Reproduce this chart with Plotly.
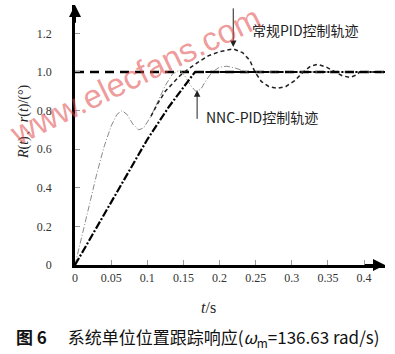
import plotly.graph_objects as go

# ---- data ----
t_ref = [0, 0.43]
y_ref = [1.0, 1.0]

t_nnc = [0, 0.02, 0.05, 0.1, 0.13, 0.166, 0.43]
y_nnc = [0, 0.13, 0.33, 0.65, 0.82, 1.0, 1.0]

t_gray = [0, 0.01, 0.02, 0.03, 0.04, 0.05, 0.058, 0.065, 0.072, 0.08, 0.088, 0.095, 0.105,
          0.115, 0.125, 0.135, 0.145, 0.152, 0.16, 0.167, 0.174, 0.182, 0.19, 0.2, 0.21,
          0.222, 0.238, 0.26, 0.43]
y_gray = [0, 0.16, 0.32, 0.47, 0.61, 0.72, 0.78, 0.80, 0.78, 0.73, 0.70, 0.71, 0.77,
          0.85, 0.93, 0.99, 1.01, 0.98, 0.93, 0.90, 0.91, 0.96, 1.0, 1.025, 1.03,
          1.02, 1.0, 1.0, 1.0]

t_pid = [0.105, 0.115, 0.125, 0.135, 0.145, 0.155, 0.17, 0.185, 0.2, 0.219, 0.232, 0.242,
         0.249, 0.258, 0.268, 0.28, 0.292, 0.304, 0.316, 0.326, 0.336, 0.348, 0.36, 0.37,
         0.381, 0.39, 0.394, 0.43]
y_pid = [0.77, 0.84, 0.9, 0.94, 0.98, 1.01, 1.05, 1.085, 1.105, 1.12, 1.10, 1.06,
         1.0, 0.95, 0.925, 0.915, 0.925, 0.955, 1.0, 1.03, 1.04, 1.025, 1.0, 0.98,
         0.972, 0.985, 1.0, 1.0]

x_ticks = [0, 0.05, 0.1, 0.15, 0.2, 0.25, 0.3, 0.35, 0.4]
x_labels = ["0", "0.05", "0.1", "0.15", "0.2", "0.25", "0.3", "0.35", "0.4"]
y_ticks = [0, 0.2, 0.4, 0.6, 0.8, 1.0, 1.2]
y_labels = ["0", "0.2", "0.4", "0.6", "0.8", "1.0", "1.2"]

XMAX = 0.429
YMAX = 1.347

# plot area in pixels (for placing paper-referenced texts)
PL, PR, PT, PB = 75, 385, 5, 265


def px(x):
    return (x - PL) / (PR - PL)


def py(y):
    return (PB - y) / (PB - PT)


fig = go.Figure()
fig.add_trace(go.Scatter(x=t_ref, y=y_ref, mode="lines",
                         line=dict(color="black", width=2.5, dash="9px,6px"), showlegend=False))
fig.add_trace(go.Scatter(x=t_gray, y=y_gray, mode="lines",
                         line=dict(color="#8a8a8a", width=1, dash="6px,2px,1px,2px"), showlegend=False))
fig.add_trace(go.Scatter(x=t_pid, y=y_pid, mode="lines",
                         line=dict(color="#222", width=1.5, dash="4px,3px"), showlegend=False))
fig.add_trace(go.Scatter(x=t_nnc, y=y_nnc, mode="lines",
                         line=dict(color="black", width=2.2, dash="8px,2px,2px,2px"), showlegend=False))

serif = "Liberation Serif, Times New Roman, serif"
cjk = "Noto Sans CJK SC"

fig.update_layout(
    width=395, height=354,
    margin=dict(l=PL, r=395 - PR, t=PT, b=354 - PB),
    paper_bgcolor="white", plot_bgcolor="white",
    xaxis=dict(range=[0, XMAX], tickvals=x_ticks, ticktext=x_labels,
               showgrid=False, zeroline=False, showline=True, linecolor="black", linewidth=2.5,
               ticks="inside", ticklen=5, tickcolor="#999", tickwidth=1,
               tickfont=dict(family=serif, size=12, color="#333")),
    yaxis=dict(range=[0, YMAX], tickvals=y_ticks, ticktext=y_labels,
               showgrid=False, zeroline=False, showline=True, linecolor="black", linewidth=2.5,
               ticks="inside", ticklen=5, tickcolor="#999", tickwidth=1,
               ticklabelstandoff=18,
               tickfont=dict(family=serif, size=12, color="#333")),
)

# axis arrows
fig.add_annotation(x=XMAX, y=0, ax=XMAX - 0.03, ay=0, xref="x", yref="y", axref="x", ayref="y",
                   showarrow=True, arrowhead=2, arrowsize=1.2, arrowwidth=2, arrowcolor="black", text="")
fig.add_annotation(x=0, y=YMAX, ax=0, ay=YMAX - 0.1, xref="x", yref="y", axref="x", ayref="y",
                   showarrow=True, arrowhead=2, arrowsize=1.2, arrowwidth=2, arrowcolor="black", text="")

# curve labels
fig.add_annotation(x=0.219, y=1.13, ax=0, ay=-40, xref="x", yref="y",
                   showarrow=True, arrowhead=2, arrowsize=1.3, arrowwidth=1, arrowcolor="#222", text="")
fig.add_annotation(x=0.242, y=1.22, xref="x", yref="y", xanchor="left", yanchor="middle",
                   text="常规PID控制轨迹", showarrow=False,
                   font=dict(family=cjk, size=14, color="#222"))
fig.add_annotation(x=0.169, y=0.905, ax=0, ay=30, xref="x", yref="y",
                   showarrow=True, arrowhead=2, arrowsize=1.3, arrowwidth=1, arrowcolor="#222", text="")
fig.add_annotation(x=0.179, y=0.765, xref="x", yref="y", xanchor="left", yanchor="middle",
                   text="NNC-PID控制轨迹", showarrow=False,
                   font=dict(family=cjk, size=14, color="#222"))

# axis titles
fig.add_annotation(x=px(208), y=py(307), xref="paper", yref="paper", showarrow=False,
                   xanchor="center", yanchor="middle",
                   text="<i>t</i>/s", font=dict(family=serif, size=16, color="#222"))
fig.add_annotation(x=px(24), y=py(122), xref="paper", yref="paper",
                   showarrow=False, textangle=-90, xanchor="center", yanchor="middle",
                   text="<i>R</i>(<i>t</i>)、<i>r</i>(<i>t</i>)/(°)",
                   font=dict(family=serif, size=14, color="#222"))

# caption
fig.add_annotation(x=px(198), y=py(337), xref="paper", yref="paper",
                   showarrow=False, xanchor="center", yanchor="middle",
                   text="<b>图 6</b>　 系统单位位置跟踪响应(<i>ω</i><sub>m</sub>=136.63 rad/s)",
                   font=dict(family=cjk, size=17, color="#111"))

# watermark
fig.add_annotation(x=px(135), y=py(75), xref="paper", yref="paper",
                   xanchor="center", yanchor="middle",
                   showarrow=False, textangle=-26, text="www.elecfans.com",
                   font=dict(family="Liberation Sans, Arial, sans-serif", size=33,
                             color="rgba(225,70,70,0.55)"))

fig.write_html("out.html")
